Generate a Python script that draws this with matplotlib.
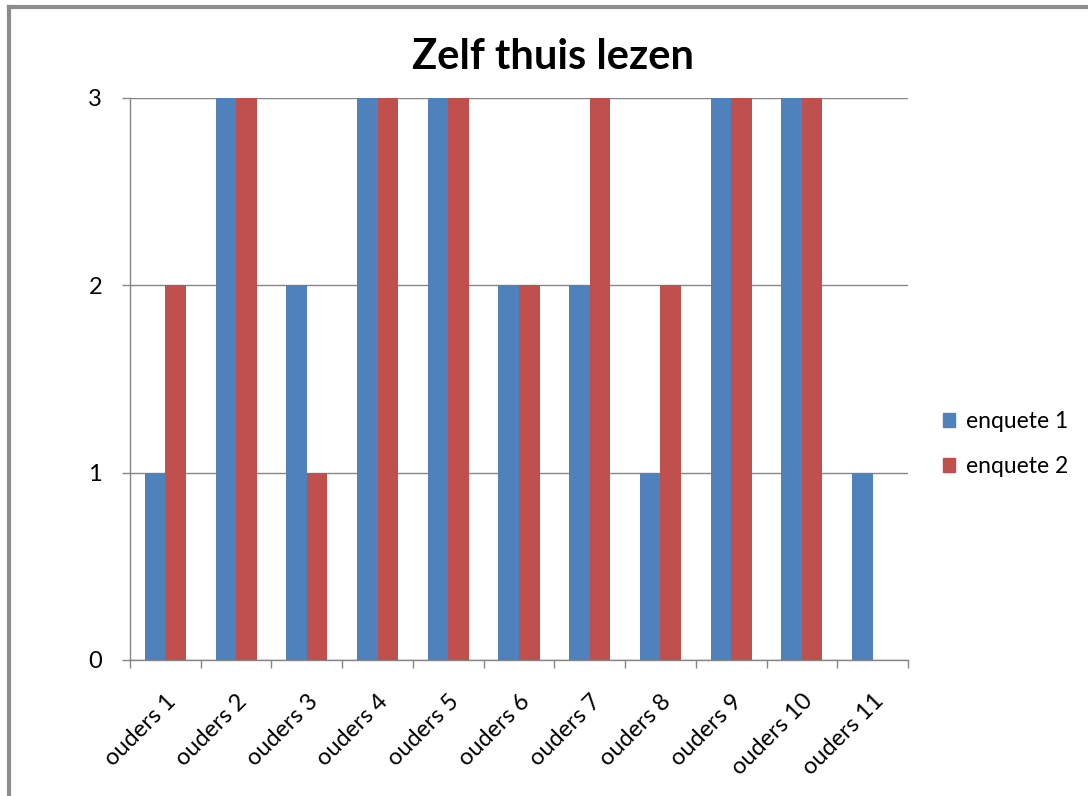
import matplotlib
matplotlib.use("Agg")
import matplotlib.pyplot as plt
from matplotlib.lines import Line2D
from matplotlib.patches import Patch
import numpy as np

categories = ["ouders 1", "ouders 2", "ouders 3", "ouders 4", "ouders 5", "ouders 6",
              "ouders 7", "ouders 8", "ouders 9", "ouders 10", "ouders 11"]
enquete_1 = [1, 3, 2, 3, 3, 2, 2, 1, 3, 3, 1]
enquete_2 = [2, 3, 1, 3, 3, 2, 3, 2, 3, 3, 0]

blue = "#4F81BD"
red = "#C0504D"
grey = "#868686"

plt.rcParams["font.family"] = ["Lato", "DejaVu Sans"]

fig = plt.figure(figsize=(10.88, 7.96), dpi=100)
ax = fig.add_axes([130 / 1088, 1 - 660 / 796, 778 / 1088, 562 / 796])

x = np.arange(len(categories))
w = 0.29
ax.bar(x - w / 2, enquete_1, w, color=blue, label="enquete 1", zorder=3)
ax.bar(x + w / 2, enquete_2, w, color=red, label="enquete 2", zorder=3)

ax.set_xlim(-0.5, len(categories) - 0.5)
ax.set_ylim(0, 3)
ax.set_yticks([0, 1, 2, 3])
ax.yaxis.grid(True, color=grey, lw=1, zorder=0)

for s in ["top", "right"]:
    ax.spines[s].set_visible(False)
for s in ["left", "bottom"]:
    ax.spines[s].set_color(grey)
    ax.spines[s].set_linewidth(1)

# labels on category centres, tick marks on the boundaries
ax.set_xticks(x)
ax.set_xticklabels(categories, rotation=45, ha="right", rotation_mode="anchor", fontsize=17)
ax.set_xticks(np.arange(-0.5, len(categories)), minor=True)
ax.tick_params(axis="x", which="major", length=0, pad=22)
ax.tick_params(axis="x", which="minor", length=6, color=grey, width=1)
ax.tick_params(axis="y", length=6, color=grey, width=1, labelsize=17, pad=14)

fig.text(0.508, 1 - 57 / 796, "Zelf thuis lezen", ha="center", va="center",
         fontsize=30, fontweight="bold")

handles = [Patch(color=blue, label="enquete 1"), Patch(color=red, label="enquete 2")]
fig.legend(handles=handles, loc="center left", bbox_to_anchor=(922 / 1088, 1 - 444 / 796),
           frameon=False, fontsize=16.5, handlelength=0.55, handleheight=0.55,
           handletextpad=0.45, labelspacing=1.05)

# outer frame (left and top edge only visible)
fig.add_artist(Line2D([9 / 1088, 9 / 1088], [0, 1 - 7 / 796], color="#8c8c8c", lw=3,
                      transform=fig.transFigure))
fig.add_artist(Line2D([9 / 1088, 1], [1 - 7 / 796, 1 - 7 / 796], color="#8c8c8c", lw=3,
                      transform=fig.transFigure))

fig.savefig("out.png", dpi=100)
